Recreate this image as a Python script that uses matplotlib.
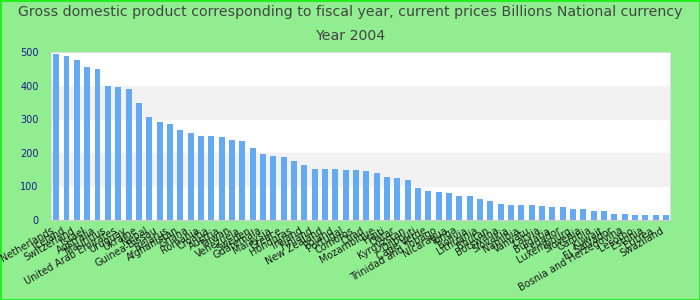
import numpy as np
import matplotlib
matplotlib.use("Agg")
import matplotlib.pyplot as plt

# Data (Billions, national currency, 2004)
countries = [
    "Netherlands", "Iceland", "Switzerland", "Israel", "Australia",
    "Mauritius", "United Arab Emirates", "Uruguay", "Ukraine", "Nepal",
    "Guinea-Bissau", "Belarus", "Afghanistan", "Ghana", "Romania",
    "Croatia", "Austria", "Taiwan", "Venezuela", "Sweden",
    "Guatemala", "Malaysia", "Greece", "Honduras", "Ireland",
    "Finland", "New Zealand", "Poland", "Portugal", "Comoros",
    "Chad", "Mozambique", "Haiti", "Qatar", "Kyrgyzstan",
    "Djibouti", "Cape Verde", "Trinidad and Tobago", "Nicaragua", "Tonga",
    "Bolivia", "Lithuania", "Bhutan", "Botswana", "Slovakia",
    "Namibia", "Vanuatu", "Latvia", "Bulgaria", "Ecuador",
    "Luxembourg", "Slovenia", "Gambia", "Kuwait", "El Salvador",
    "Bosnia and Herzegovina", "Lesotho", "Estonia", "Eritrea", "Swaziland",
]
gdp = [
    493, 487, 475, 454, 448, 398, 395, 389, 347, 306,
    291, 285, 267, 258, 250, 250, 247, 238, 235, 214,
    196, 190, 187, 175, 163, 151, 151, 151, 149, 149,
    146, 140, 128, 125, 119, 95, 86, 83, 80, 71,
    71, 62, 56, 48, 45, 45, 45, 42, 39, 39,
    33, 33, 27, 27, 18, 18, 15, 15, 15, 15,
]

fig = plt.figure(figsize=(7, 3), dpi=100, facecolor="#90ee90",
                 edgecolor="#22ee22", linewidth=2)
ax = fig.add_axes([51 / 700, 1 - 220 / 300, 619 / 700, 168 / 300])
ax.set_facecolor("white")

# alternating bands
for lo in (100, 300):
    ax.axhspan(lo, lo + 100, color="#f2f2f2", zorder=0)

x = np.arange(len(countries))
ax.bar(x, gdp, width=0.58, color="#63aaf2", zorder=2)

ax.set_xlim(-0.5, len(countries) - 0.6)
ax.set_ylim(0, 500)
ax.set_yticks([0, 100, 200, 300, 400, 500])
ax.tick_params(axis="y", length=0, pad=9, labelsize=7, labelcolor="#1a1a8c")
ax.set_xticks(x)
ax.set_xticklabels(countries, rotation=30, ha="right", fontsize=7,
                   color="#1a1a1a")
ax.tick_params(axis="x", length=0, pad=4)

for side in ("top", "right", "left"):
    ax.spines[side].set_color("#dddddd")
ax.spines["bottom"].set_color("#cccccc")

fig.text(0.5, 1 - 12 / 300,
         "Gross domestic product corresponding to fiscal year, current prices Billions National currency",
         ha="center", va="center", fontsize=10.2, color="#444444")
fig.text(0.5, 1 - 36 / 300, "Year 2004", ha="center", va="center",
         fontsize=10.2, color="#444444")

fig.savefig("out.png", dpi=100, facecolor=fig.get_facecolor(),
            edgecolor=fig.get_edgecolor())
